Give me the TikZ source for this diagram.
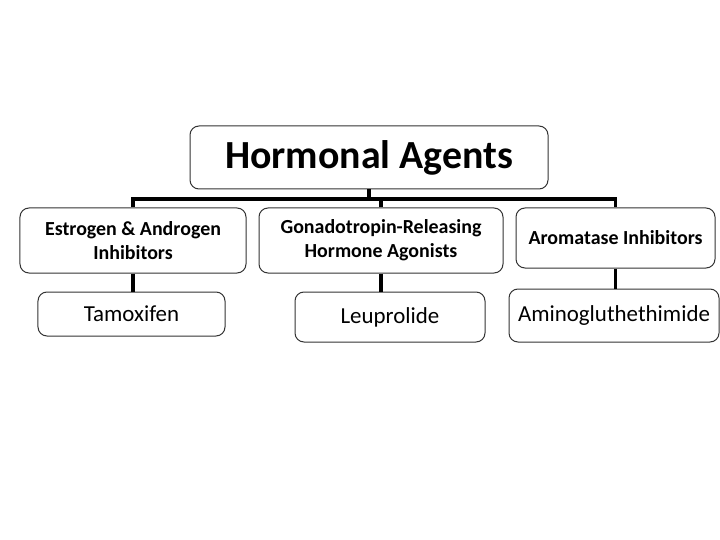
\documentclass[tikz,border=0pt]{standalone}
\usepackage{fontspec}
\setmainfont{Carlito}
\begin{document}
\begin{tikzpicture}[x=1bp,y=-1bp,
  box/.style={draw=black!80, line width=1bp, rounded corners=9bp, fill=white, inner sep=0pt, align=center},
  conn/.style={draw=black, line width=3.5bp},
  lvone/.style={box, font=\fontsize{20}{24}\selectfont\bfseries},
  lvtwo/.style={box, font=\fontsize{23}{27}\selectfont}]
\useasboundingbox (0,0) rectangle (720,540);
\node[box, minimum width=358bp, minimum height=63bp, font=\fontsize{40}{44}\selectfont\bfseries] (top) at (369,157.5) {Hormonal Agents};
\node[lvone, minimum width=226bp, minimum height=65bp] (e1) at (133,240.5) {Estrogen \& Androgen\\Inhibitors};
\node[lvone, minimum width=244bp, minimum height=65bp] (g1) at (381,240.5) {Gonadotropin-Releasing\\Hormone Agonists};
\node[lvone, minimum width=199bp, minimum height=60bp] (a1) at (615.5,238) {Aromatase Inhibitors};
\node[lvtwo, minimum width=187bp, minimum height=44bp] (e2) at (131.5,314) {Tamoxifen};
\node[lvtwo, minimum width=190bp, minimum height=50bp] (g2) at (390,317) {Leuprolide};
\node[lvtwo, minimum width=210bp, minimum height=53bp] (a2) at (614,315.5) {Aminogluthethimide};
\coordinate (bus) at (370,199);
\draw[conn] (top.south) -- (top.south |- bus);
\draw[conn] (e1.north) -- (e1.north |- bus) -- (a1.north |- bus) -- (a1.north);
\draw[conn] (g1.north) -- (g1.north |- bus);
\draw[conn] (e1.south) -- (e1.south |- e2.north);
\draw[conn] (g1.south) -- (g1.south |- g2.north);
\draw[conn] (a1.south) -- (a1.south |- a2.north);
\end{tikzpicture}
\end{document}
